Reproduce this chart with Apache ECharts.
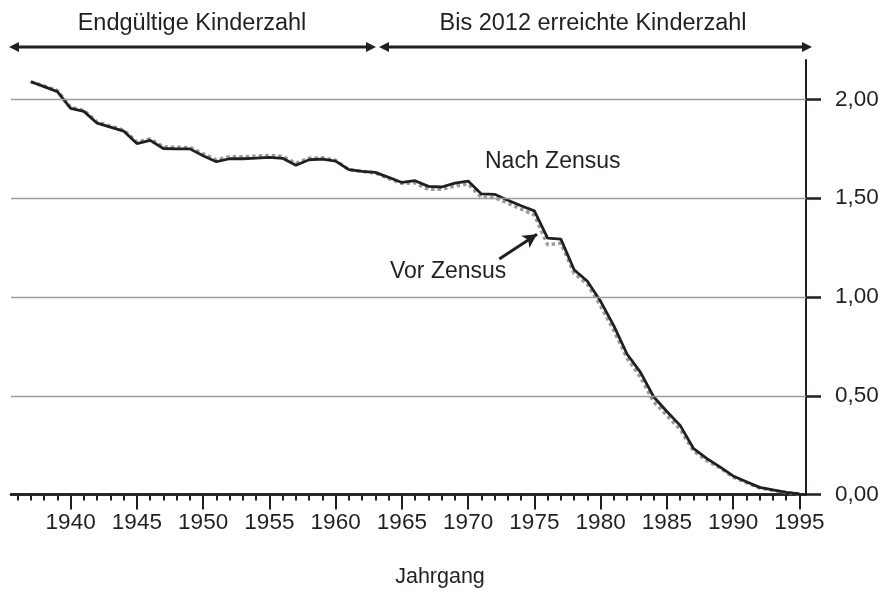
<!DOCTYPE html>
<html>
<head>
<meta charset="utf-8">
<script src="https://cdn.jsdelivr.net/npm/echarts@6/dist/echarts.min.js"></script>
<style>html,body{margin:0;padding:0;background:#fff}#c{width:885px;height:598px}</style>
</head>
<body>
<div id="c"></div>
<script>
const years = [1937,1938,1939,1940,1941,1942,1943,1944,1945,1946,
  1947,1948,1949,1950,1951,1952,1953,1954,1955,1956,
  1957,1958,1959,1960,1961,1962,1963,1964,1965,1966,
  1967,1968,1969,1970,1971,1972,1973,1974,1975,1976,
  1977,1978,1979,1980,1981,1982,1983,1984,1985,1986,
  1987,1988,1989,1990,1991,1992,1993,1994,1995];
const nachZensus = [2.09,2.065,2.04,1.955,1.94,1.88,1.86,1.84,1.777,1.793,
  1.752,1.75,1.75,1.715,1.685,1.70,1.70,1.703,1.707,1.702,
  1.667,1.695,1.698,1.688,1.645,1.636,1.631,1.606,1.58,1.589,
  1.56,1.557,1.577,1.587,1.522,1.52,1.49,1.462,1.436,1.298,
  1.293,1.138,1.08,0.978,0.854,0.71,0.62,0.495,0.42,0.35,
  0.234,0.183,0.14,0.094,0.065,0.036,0.023,0.011,0.003];
const vorZensus = [2.09,2.068,2.045,1.96,1.945,1.885,1.865,1.845,1.785,1.80,
  1.76,1.758,1.757,1.725,1.695,1.71,1.71,1.713,1.717,1.712,
  1.677,1.703,1.705,1.692,1.645,1.636,1.628,1.60,1.575,1.578,
  1.545,1.545,1.562,1.572,1.505,1.503,1.475,1.445,1.415,1.265,
  1.272,1.12,1.065,0.955,0.83,0.69,0.595,0.47,0.40,0.33,
  0.222,0.172,0.135,0.088,0.06,0.033,0.021,0.01,0.003];
const minorTickYears = [];
for (let y = 1936; y <= 1995; y++) minorTickYears.push(y);
const majorTickYears = [1940,1945,1950,1955,1960,1965,1970,1975,1980,1985,1990,1995];
const yTicks = [0, 0.5, 1, 1.5, 2];
const gridValues = [0.5, 1, 1.5, 2];

const FONT = "'Liberation Sans', Arial, sans-serif";
const INK = '#231f20';
const xMin = 1935.5, xMax = 1995.5;

function arrowHead(tipX, tipY, dir, len, half) {
  return { type: 'polygon', z: 10, shape: { points: [[tipX, tipY], [tipX - dir * len, tipY - half], [tipX - dir * len, tipY + half]] }, style: { fill: INK } };
}
const arrowY = 47;
const topArrows = [
  { type: 'line', z: 10, shape: { x1: 14, y1: arrowY, x2: 371, y2: arrowY }, style: { stroke: INK, lineWidth: 3 } },
  arrowHead(9, arrowY, -1, 10, 5), arrowHead(376, arrowY, 1, 10, 5),
  { type: 'line', z: 10, shape: { x1: 384, y1: arrowY, x2: 807, y2: arrowY }, style: { stroke: INK, lineWidth: 3 } },
  arrowHead(379, arrowY, -1, 10, 5), arrowHead(812, arrowY, 1, 10, 5)
];

const chart = echarts.init(document.getElementById('c'));
chart.setOption({
  animation: false,
  backgroundColor: '#fff',
  textStyle: { fontFamily: FONT, color: INK },
  grid: { left: 11, right: 79, top: 60, bottom: 103.5, containLabel: false },
  xAxis: [
    { type: 'value', min: xMin, max: xMax, position: 'bottom',
      axisLine: { show: true, lineStyle: { color: INK, width: 2.5 } },
      axisTick: { show: true, customValues: minorTickYears, length: 6, lineStyle: { color: INK, width: 2 } },
      axisLabel: { show: false }, splitLine: { show: false } },
    { type: 'value', min: xMin, max: xMax, position: 'bottom',
      axisLine: { show: true, lineStyle: { color: INK, width: 2.5 } },
      axisTick: { show: true, customValues: majorTickYears, length: 15, lineStyle: { color: INK, width: 2 } },
      axisLabel: { show: true, customValues: majorTickYears, margin: 17, fontSize: 22.5, color: INK, fontFamily: FONT,
        formatter: v => String(Math.round(v)) },
      splitLine: { show: false } }
  ],
  yAxis: {
    type: 'value', min: 0, max: 2.2, position: 'right',
    axisLine: { show: true, lineStyle: { color: INK, width: 2 } },
    axisTick: { show: true, customValues: yTicks, length: 15, inside: false, lineStyle: { color: INK, width: 2.5 } },
    axisLabel: { show: true, customValues: yTicks, margin: 29, fontSize: 22.5, color: INK, fontFamily: FONT,
      formatter: v => v.toFixed(2).replace('.', ',') },
    splitLine: { show: false }
  },
  series: [
    { type: 'line', name: 'grid', data: [], z: 1, silent: true,
      markLine: { silent: true, symbol: 'none', label: { show: false },
        lineStyle: { color: '#9b9b9b', width: 1.3, type: 'solid' },
        data: gridValues.map(v => ({ yAxis: v })) } },
    { type: 'line', name: 'Vor Zensus', xAxisIndex: 0, z: 3, symbol: 'none', clip: false,
      data: years.map((y, i) => [y, vorZensus[i]]),
      lineStyle: { color: '#9a9a9a', width: 3.5, type: [3.5, 3] } },
    { type: 'line', name: 'Nach Zensus', xAxisIndex: 0, z: 4, symbol: 'none', clip: false,
      data: years.map((y, i) => [y, nachZensus[i]]),
      lineStyle: { color: INK, width: 2.8 },
      markLine: { silent: true, label: { show: false },
        lineStyle: { color: INK, width: 3, type: 'solid' },
        symbol: ['none', 'arrow'], symbolSize: [11, 14],
        data: [
          [{ coord: [1972.35, 1.192] }, { coord: [1975.2, 1.318] }]
        ] } }
  ],
  graphic: topArrows.concat([
    { type: 'text', z: 10, style: { text: 'Endgültige Kinderzahl', x: 192, y: 24, font: "23.5px " + FONT, fill: INK, textAlign: 'center', textVerticalAlign: 'middle' } },
    { type: 'text', z: 10, style: { text: 'Bis 2012 erreichte Kinderzahl', x: 593, y: 24, font: "23.5px " + FONT, fill: INK, textAlign: 'center', textVerticalAlign: 'middle' } },
    { type: 'text', z: 10, style: { text: 'Nach Zensus', x: 485, y: 162, font: "23px " + FONT, fill: INK, textAlign: 'left', textVerticalAlign: 'middle' } },
    { type: 'text', z: 10, style: { text: 'Vor Zensus', x: 390, y: 272, font: "23px " + FONT, fill: INK, textAlign: 'left', textVerticalAlign: 'middle' } },
    { type: 'text', z: 10, style: { text: 'Jahrgang', x: 440, y: 577, font: "21.5px " + FONT, fill: INK, textAlign: 'center', textVerticalAlign: 'middle' } }
  ])
});
</script>
</body>
</html>
